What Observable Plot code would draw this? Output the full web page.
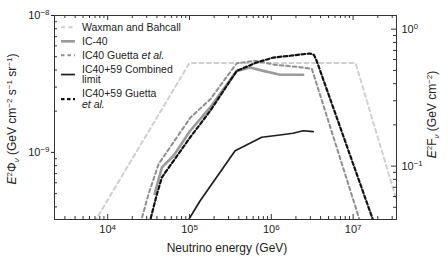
<!DOCTYPE html>
<html><head><meta charset="utf-8">
<script src="https://cdn.jsdelivr.net/npm/d3@7"></script>
<script src="https://cdn.jsdelivr.net/npm/@observablehq/plot@0.6"></script>
<style>
body{margin:0;background:#fff;font-family:"Liberation Sans",Arial,sans-serif}
#chart svg{display:block}
</style>
</head><body><div id="chart"></div>
<script>
// ---- data (neutrino energy in GeV, E^2 Phi in GeV cm^-2 s^-1 sr^-1) ----
const wbEnergy = [5e3, 1e5, 1.07e7, 5e7];
const wbFlux   = [2.25e-10, 4.5e-9, 4.5e-9, 2.06e-10];

const ic40Energy = [3.74e4, 4.60e4, 6.38e4, 1.02e5, 1.79e5, 3.78e5, 5.50e5, 7.98e5, 1.28e6, 2.45e6];
const ic40Flux   = [4.97e-10, 7.78e-10, 9.46e-10, 1.44e-9, 2.13e-9, 3.94e-9, 4.17e-9, 3.94e-9, 3.69e-9, 3.69e-9];

const g40Energy = [2.51e4, 3.16e4, 4.19e4, 1.02e5, 1.80e5, 3.78e5, 6.31e5, 1.11e6, 2.24e6, 3.13e6, 1.20e7, 1.58e7];
const g40Flux   = [3.02e-10, 4.97e-10, 8.22e-10, 1.79e-9, 2.45e-9, 4.48e-9, 4.67e-9, 4.37e-9, 4.19e-9, 4.08e-9, 3.21e-10, 1.9e-10];

const combEnergy = [8.91e4, 1.35e5, 3.61e5, 7.64e5, 1.28e6, 1.84e6, 2.45e6, 3.25e6];
const combFlux   = [2.95e-10, 4.44e-10, 1.03e-9, 1.29e-9, 1.34e-9, 1.38e-9, 1.44e-9, 1.42e-9];

const g59Energy = [3.09e4, 4.00e4, 4.60e4, 1.02e5, 1.79e5, 3.78e5, 6.64e5, 1.06e6, 1.69e6, 2.96e6, 3.31e6, 3.58e6, 1.75e7, 2.24e7];
const g59Flux   = [2.72e-10, 4.97e-10, 6.58e-10, 1.29e-9, 2.01e-9, 3.94e-9, 4.54e-9, 4.93e-9, 5.08e-9, 5.28e-9, 5.16e-9, 4.67e-9, 3.21e-10, 2.14e-10];

const seriesNames = ["Waxman and Bahcall", "IC-40", "IC40 Guetta et al.", "IC40+59 Combined limit", "IC40+59 Guetta et al."];

// ticks
const xTickValues = [1e4, 1e5, 1e6, 1e7];
const yTickValues = [1e-9, 1e-8];
const rightTickValues = [0.1, 1];
const rightMinorValues = [0.05, 0.06, 0.07, 0.08, 0.09, 0.2, 0.3, 0.4, 0.5, 0.6, 0.7, 0.8, 0.9];
const rightFactor = 10 ** 8.1; // E^2 F (GeV cm^-2) per E^2 Phi unit

// ---- layout ----
const W = 448, H = 267;
const mL = 54, mR = 52, mT = 15, mB = 48;
const plotW = W - mL - mR, plotH = H - mT - mB;
const xDomain = [10 ** 3.35, 10 ** 7.53];
const yDomain = [10 ** -9.49, 1e-8];

const toRows = (E, F) => E.map((e, i) => ({E: e, flux: F[i]}));
const styles = [
  {stroke: "#cfcfcf", strokeWidth: 2, strokeDasharray: "4,3.5"},
  {stroke: "#9a9a9a", strokeWidth: 2.6, strokeDasharray: null},
  {stroke: "#8e8e8e", strokeWidth: 2, strokeDasharray: "3.5,3"},
  {stroke: "#1e1e1e", strokeWidth: 1.7, strokeDasharray: null},
  {stroke: "#111", strokeWidth: 2.2, strokeDasharray: "3.5,2.5"}
];
const datasets = [
  toRows(wbEnergy, wbFlux),
  toRows(ic40Energy, ic40Flux),
  toRows(g40Energy, g40Flux),
  toRows(combEnergy, combFlux),
  toRows(g59Energy, g59Flux)
];

function minorTicks(lo, hi) {
  const out = [];
  for (let d = Math.floor(Math.log10(lo)); d <= Math.ceil(Math.log10(hi)); d++) {
    for (let k = 2; k <= 9; k++) {
      const v = k * 10 ** d;
      if (v > lo && v < hi) out.push(v);
    }
  }
  return out;
}
const xMinor = minorTicks(...xDomain);
const yMinor = minorTicks(...yDomain);
const pow = d => "10^" + Math.round(Math.log10(d));
const axisColor = "#333";
const rightRows = rightTickValues.map(v => ({v, y: v / rightFactor}));

const chart = Plot.plot({
  width: W, height: H,
  marginLeft: mL, marginRight: mR, marginTop: mT, marginBottom: mB,
  style: {fontFamily: "'Liberation Sans', Arial, sans-serif", fontSize: "11px", color: "#222", background: "#fff"},
  x: {type: "log", domain: xDomain, label: null},
  y: {type: "log", domain: yDomain, label: null},
  marks: [
    ...datasets.map((data, i) => Plot.line(data, {x: "E", y: "flux", ...styles[i], clip: true})),
    // x ticks (inward, bottom and top)
    Plot.ruleX(xMinor, {x: d => d, insetTop: plotH - 3, stroke: axisColor}),
    Plot.ruleX(xMinor, {x: d => d, insetBottom: plotH - 3, stroke: axisColor}),
    Plot.ruleX(xTickValues, {x: d => d, insetTop: plotH - 5, stroke: axisColor}),
    Plot.ruleX(xTickValues, {x: d => d, insetBottom: plotH - 5, stroke: axisColor}),
    // y minor ticks (inward, left) and right-axis ticks (inward)
    Plot.ruleY(yMinor, {y: d => d, insetRight: plotW - 3, stroke: axisColor}),
    Plot.ruleY(rightMinorValues, {y: v => v / rightFactor, insetLeft: plotW - 3, stroke: axisColor}),
    Plot.ruleY(rightRows, {y: "y", insetLeft: plotW - 5, stroke: axisColor}),
    Plot.text(rightRows, {y: "y", frameAnchor: "right", dx: 5, textAnchor: "start", text: d => pow(d.v), fontSize: 11, fill: "#222"}),
    Plot.axisX(xTickValues, {anchor: "bottom", tickSize: 0, tickPadding: 6, tickFormat: pow, label: null, fontSize: 11}),
    Plot.axisY(yTickValues, {anchor: "left", tickSize: 3, tickPadding: 2, tickFormat: pow, label: null, fontSize: 11}),
    Plot.frame({stroke: axisColor, strokeWidth: 1})
  ]
});
document.getElementById("chart").appendChild(chart);

const svg = d3.select(chart);
// superscript tick labels
svg.selectAll("text").each(function() {
  const t = this.textContent;
  const m = /^10\^(-?\d+)$/.exec(t);
  if (!m) return;
  const sel = d3.select(this);
  sel.text("");
  sel.append("tspan").text("10");
  sel.append("tspan").attr("dy", "-0.45em").attr("font-size", "0.72em").text(m[1].replace("-", "\u2212"));
});

// axis titles
function richText(parent, parts, supSize) {
  let shift = 0;
  for (const p of parts) {
    const target = p.sup ? -4.5 : p.sub ? 3 : 0;
    const ts = parent.append("tspan").attr("dy", target - shift).text(p.t);
    if (p.sup || p.sub) ts.attr("font-size", supSize);
    if (p.i) ts.attr("font-style", "italic");
    shift = target;
  }
}
const titleColor = "#222";
const lt = svg.append("text").attr("transform", "translate(16,119) rotate(-90)")
  .attr("text-anchor", "middle").attr("font-size", 12).attr("fill", titleColor);
richText(lt, [{t: "E", i: true}, {t: "2", sup: true}, {t: "\u03A6"}, {t: "\u03BD", sub: true, i: true},
  {t: " (GeV cm"}, {t: "\u22122", sup: true}, {t: " s"}, {t: "\u22121", sup: true}, {t: " sr"}, {t: "\u22121", sup: true}, {t: ")"}], 8);

const rt = svg.append("text").attr("transform", "translate(436,114.5) rotate(-90)")
  .attr("text-anchor", "middle").attr("font-size", 12).attr("fill", titleColor);
richText(rt, [{t: "E", i: true}, {t: "2", sup: true}, {t: "F"}, {t: "\u03BD", sub: true, i: true},
  {t: " (GeV cm"}, {t: "\u22122", sup: true}, {t: ")"}], 8);

svg.append("text").attr("x", mL + plotW / 2 + 2).attr("y", 252).attr("text-anchor", "middle")
  .attr("font-size", 12).attr("fill", titleColor).text("Neutrino energy (GeV)");

// legend
const legendLines = [["Waxman and Bahcall"], ["IC-40"], ["IC40 Guetta ", "et al."], ["IC40+59 Combined", "limit"], ["IC40+59 Guetta", "et al."]];
const lg = svg.append("g").attr("font-size", 10.5).attr("fill", titleColor).attr("text-anchor", "start");
let y0 = 27.3;
legendLines.forEach((lines, i) => {
  const n = (i === 2) ? 1 : lines.length;
  const cy = y0 + (n - 1) * 10.5 / 2;
  const st = styles[i];
  lg.append("line").attr("x1", 61).attr("x2", 75).attr("y1", cy).attr("y2", cy)
    .attr("stroke", st.stroke).attr("stroke-width", st.strokeWidth)
    .attr("stroke-dasharray", st.strokeDasharray);
  const tx = lg.append("text").attr("x", 82).attr("y", y0).attr("dy", "0.35em");
  if (i === 2) {
    tx.append("tspan").text("IC40 Guetta ");
    tx.append("tspan").attr("font-style", "italic").text("et al.");
  } else {
    lines.forEach((ln, j) => {
      const ts = tx.append("tspan").attr("x", 82).attr("dy", j === 0 ? null : 10.5).text(ln);
      if (ln === "et al.") ts.attr("font-style", "italic");
    });
  }
  y0 += 14 + (n - 1) * 10.5;
});
</script>
</body></html>
